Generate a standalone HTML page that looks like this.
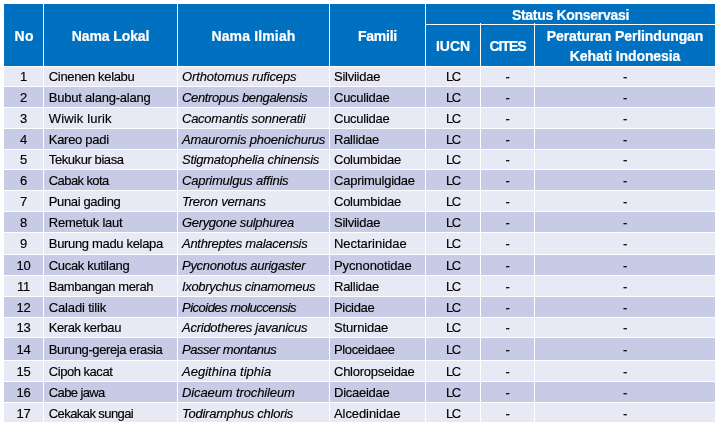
<!DOCTYPE html>
<html lang="id">
<head>
<meta charset="utf-8">
<title>Status Konservasi</title>
<style>
html,body{margin:0;padding:0;background:#fff;}
body{width:718px;height:425px;overflow:hidden;position:relative;font-family:"Liberation Sans",sans-serif;}
table{position:absolute;left:4px;top:4px;width:711px;border-collapse:separate;border-spacing:0;table-layout:fixed;}
td,th{box-sizing:border-box;padding:0;margin:0;border:0 solid #fff;border-right-width:1px;border-bottom-width:1px;white-space:nowrap;overflow:hidden;line-height:1;}
td:last-child,th.last{border-right-width:0;}
tr.lastrow td{border-bottom-width:0;}
th{background:#0070C0;color:#fff;font-weight:bold;font-size:14px;text-align:center;vertical-align:middle;letter-spacing:-0.1px;-webkit-text-stroke:0.2px #fff;}
th.r2{padding-top:2px;}
th.sk{padding-top:2px;letter-spacing:-0.3px;}
th.no{letter-spacing:0.5px;padding-left:1.7px;}
th.ni{letter-spacing:0.15px;}
th.fa{letter-spacing:-0.25px;}
th.ci{letter-spacing:-1px;}
th.two{line-height:20px;}
td{font-size:13px;color:#000;vertical-align:top;padding-top:3.5px;letter-spacing:-0.25px;-webkit-text-stroke:0.15px #000;}
tr.a td{background:#E7EAF4;}
tr.b td{background:#C7CBE5;}
td.n,td.c{text-align:center;}
td.lc{letter-spacing:-1.5px;padding-right:0.5px;}
td.l{padding-left:4.8px;}
td.i{padding-left:4px;font-style:italic;}
td.f{padding-left:4px;}
.tick{position:absolute;top:23px;width:1px;height:1px;background:#fff;}
tr.d1 td{padding-top:4.5px;}
tr.u1 td{padding-top:2.5px;}
</style>
</head>
<body>
<table>
<colgroup><col style="width:40px"><col style="width:134px"><col style="width:152px"><col style="width:96px"><col style="width:55px"><col style="width:54px"><col style="width:180px"></colgroup>
<thead>
<tr style="height:21px"><th rowspan="2" class="r2 no">No</th><th rowspan="2" class="r2">Nama Lokal</th><th rowspan="2" class="r2 ni">Nama Ilmiah</th><th rowspan="2" class="r2 fa">Famili</th><th colspan="3" class="last sk">Status Konservasi</th></tr>
<tr style="height:42px"><th>IUCN</th><th class="ci">CITES</th><th class="last two">Peraturan Perlindungan<br>Kehati Indonesia</th></tr>
</thead>
<tbody>
<tr class="a u1" style="height:20px"><td class="n">1</td><td class="l" style="letter-spacing:-0.34px">Cinenen kelabu</td><td class="i" style="letter-spacing:-0.14px">Orthotomus ruficeps</td><td class="f">Silviidae</td><td class="c lc">LC</td><td class="c">-</td><td class="c">-</td></tr>
<tr class="b" style="height:21px"><td class="n">2</td><td class="l" style="letter-spacing:-0.23px">Bubut alang-alang</td><td class="i" style="letter-spacing:-0.36px">Centropus bengalensis</td><td class="f">Cuculidae</td><td class="c lc">LC</td><td class="c">-</td><td class="c">-</td></tr>
<tr class="a" style="height:21px"><td class="n">3</td><td class="l" style="letter-spacing:0.14px">Wiwik lurik</td><td class="i">Cacomantis sonneratii</td><td class="f">Cuculidae</td><td class="c lc">LC</td><td class="c">-</td><td class="c">-</td></tr>
<tr class="b" style="height:21px"><td class="n">4</td><td class="l" style="letter-spacing:-0.29px">Kareo padi</td><td class="i" style="letter-spacing:-0.22px">Amaurornis phoenichurus</td><td class="f">Rallidae</td><td class="c lc">LC</td><td class="c">-</td><td class="c">-</td></tr>
<tr class="a u1" style="height:20px"><td class="n">5</td><td class="l" style="letter-spacing:-0.42px">Tekukur biasa</td><td class="i" style="letter-spacing:-0.28px">Stigmatophelia chinensis</td><td class="f">Columbidae</td><td class="c lc">LC</td><td class="c">-</td><td class="c">-</td></tr>
<tr class="b" style="height:21px"><td class="n">6</td><td class="l" style="letter-spacing:-0.59px">Cabak kota</td><td class="i" style="letter-spacing:-0.22px">Caprimulgus affinis</td><td class="f" style="letter-spacing:-0.23px">Caprimulgidae</td><td class="c lc">LC</td><td class="c">-</td><td class="c">-</td></tr>
<tr class="a" style="height:21px"><td class="n">7</td><td class="l" style="letter-spacing:-0.36px">Punai gading</td><td class="i" style="letter-spacing:-0.25px">Treron vernans</td><td class="f">Columbidae</td><td class="c lc">LC</td><td class="c">-</td><td class="c">-</td></tr>
<tr class="b" style="height:21px"><td class="n">8</td><td class="l" style="letter-spacing:-0.25px">Remetuk laut</td><td class="i" style="letter-spacing:-0.33px">Gerygone sulphurea</td><td class="f">Silviidae</td><td class="c lc">LC</td><td class="c">-</td><td class="c">-</td></tr>
<tr class="a" style="height:22px"><td class="n">9</td><td class="l" style="letter-spacing:-0.33px">Burung madu kelapa</td><td class="i" style="letter-spacing:-0.29px">Anthreptes malacensis</td><td class="f" style="letter-spacing:-0.03px">Nectarinidae</td><td class="c lc">LC</td><td class="c">-</td><td class="c">-</td></tr>
<tr class="b" style="height:21px"><td class="n">10</td><td class="l" style="letter-spacing:-0.34px">Cucak kutilang</td><td class="i" style="letter-spacing:-0.29px">Pycnonotus aurigaster</td><td class="f" style="letter-spacing:-0.10px">Pycnonotidae</td><td class="c lc">LC</td><td class="c">-</td><td class="c">-</td></tr>
<tr class="a" style="height:21px"><td class="n">11</td><td class="l" style="letter-spacing:-0.42px">Bambangan merah</td><td class="i" style="letter-spacing:-0.33px">Ixobrychus cinamomeus</td><td class="f">Rallidae</td><td class="c lc">LC</td><td class="c">-</td><td class="c">-</td></tr>
<tr class="b" style="height:21px"><td class="n">12</td><td class="l" style="letter-spacing:-0.16px">Caladi tilik</td><td class="i" style="letter-spacing:-0.51px">Picoides moluccensis</td><td class="f" style="letter-spacing:-0.32px">Picidae</td><td class="c lc">LC</td><td class="c">-</td><td class="c">-</td></tr>
<tr class="a u1" style="height:20px"><td class="n">13</td><td class="l" style="letter-spacing:-0.43px">Kerak kerbau</td><td class="i">Acridotheres javanicus</td><td class="f" style="letter-spacing:-0.17px">Sturnidae</td><td class="c lc">LC</td><td class="c">-</td><td class="c">-</td></tr>
<tr class="b d1" style="height:23px"><td class="n">14</td><td class="l" style="letter-spacing:-0.39px">Burung-gereja erasia</td><td class="i" style="letter-spacing:-0.46px">Passer montanus</td><td class="f" style="letter-spacing:-0.36px">Ploceidaee</td><td class="c lc">LC</td><td class="c">-</td><td class="c">-</td></tr>
<tr class="a" style="height:21px"><td class="n">15</td><td class="l" style="letter-spacing:-0.47px">Cipoh kacat</td><td class="i" style="letter-spacing:0.02px">Aegithina tiphia</td><td class="f">Chloropseidae</td><td class="c lc">LC</td><td class="c">-</td><td class="c">-</td></tr>
<tr class="b" style="height:21px"><td class="n">16</td><td class="l" style="letter-spacing:-0.62px">Cabe jawa</td><td class="i" style="letter-spacing:-0.12px">Dicaeum trochileum</td><td class="f">Dicaeidae</td><td class="c lc">LC</td><td class="c">-</td><td class="c">-</td></tr>
<tr class="a lastrow" style="height:19px"><td class="n">17</td><td class="l" style="letter-spacing:-0.58px">Cekakak sungai</td><td class="i" style="letter-spacing:-0.25px">Todiramphus chloris</td><td class="f" style="letter-spacing:-0.08px">Alcedinidae</td><td class="c lc">LC</td><td class="c">-</td><td class="c">-</td></tr>
</tbody>
</table>
<div class="tick" style="left:480px"></div><div class="tick" style="left:534px"></div>
</body>
</html>
